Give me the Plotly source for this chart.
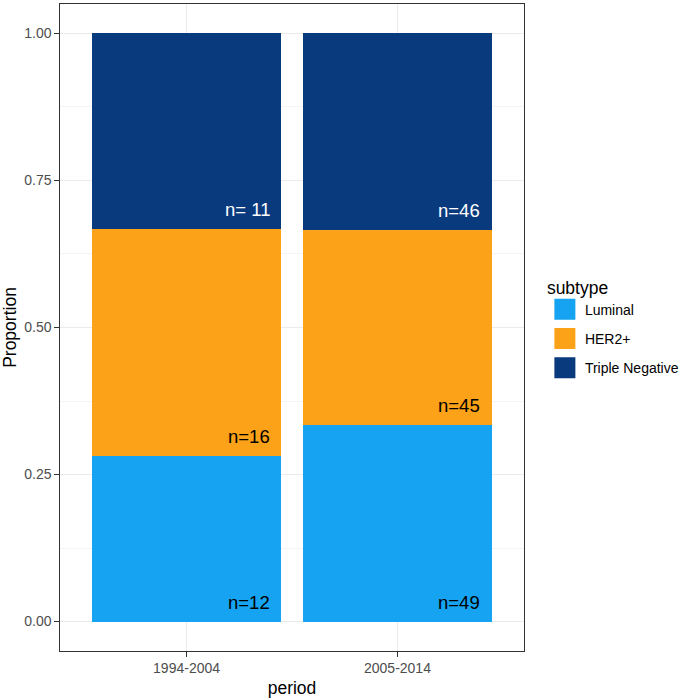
import plotly.graph_objects as go

periods = ["1994-2004", "2005-2014"]
subtypes = ["Luminal", "HER2+", "Triple Negative"]
luminal = [0.281, 0.335]
her2 = [0.386, 0.330]
triple_neg = [0.333, 0.335]
lab_luminal = ["n=12", "n=49"]
lab_her2 = ["n=16", "n=45"]
lab_tn = ["n= 11", "n=46"]
colors = ["#16A3F1", "#FCA218", "#0A3A7E"]
label_colors = ["black", "black", "white"]

series = [luminal, her2, triple_neg]
labels = [lab_luminal, lab_her2, lab_tn]

fig = go.Figure()
for name, vals, col in zip(subtypes, series, colors):
    fig.add_trace(go.Bar(x=periods, y=vals, name=name, marker=dict(color=col, line=dict(width=0)),
                         showlegend=False, hoverinfo="skip"))
# legend keys
for name, col in zip(subtypes, colors):
    fig.add_trace(go.Scatter(x=[None], y=[None], mode="markers", name=name, legendgroup=name,
                             marker=dict(symbol="square", size=16, color=col, line=dict(color=col, width=5))))

annotations = []
for i, p in enumerate(periods):
    bottom = 0.0
    for k in range(len(subtypes)):
        annotations.append(dict(x=p, y=bottom, xref="x", yref="y", text=labels[k][i],
                                showarrow=False, xanchor="right", yanchor="bottom",
                                xshift=85, yshift=7,
                                font=dict(family="Liberation Sans, Arial", size=18.5, color=label_colors[k])))
        bottom += series[k][i]

fig.update_layout(
    barmode="stack", bargap=0.1,
    width=688, height=698,
    margin=dict(l=60, r=164, t=3, b=46),
    paper_bgcolor="white", plot_bgcolor="white",
    font=dict(family="Liberation Sans, Arial", color="black"),
    annotations=annotations,
    legend=dict(title=dict(text="subtype", font=dict(size=17.5)), font=dict(size=14),
                x=1.045, xanchor="left", y=0.5, yanchor="middle",
                traceorder="grouped", tracegroupgap=8, itemsizing="trace"),
    xaxis=dict(range=[-0.6, 1.6], showline=True, linecolor="#333333", linewidth=1.3, mirror=True,
               showgrid=True, gridcolor="#EBEBEB", gridwidth=1,
               ticks="outside", ticklen=4.5, tickcolor="#333333",
               tickfont=dict(size=14, color="#4D4D4D"),
               title=dict(text="period", font=dict(size=17.5), standoff=6)),
    yaxis=dict(range=[-0.05, 1.05], showline=True, linecolor="#333333", linewidth=1.3, mirror=True,
               tickvals=[0, 0.25, 0.5, 0.75, 1.0], tickformat=".2f",
               showgrid=True, gridcolor="#EBEBEB", gridwidth=1, zeroline=False,
               minor=dict(tickvals=[0.125, 0.375, 0.625, 0.875], showgrid=True, gridcolor="#F4F4F4", gridwidth=1, ticks=""),
               ticks="outside", ticklen=4.5, tickcolor="#333333",
               tickfont=dict(size=14, color="#4D4D4D"),
               title=dict(text="Proportion", font=dict(size=17.5), standoff=6)),
)

fig.write_html("out.html", config={"displayModeBar": False},
               post_script="document.body.style.margin='0';")
